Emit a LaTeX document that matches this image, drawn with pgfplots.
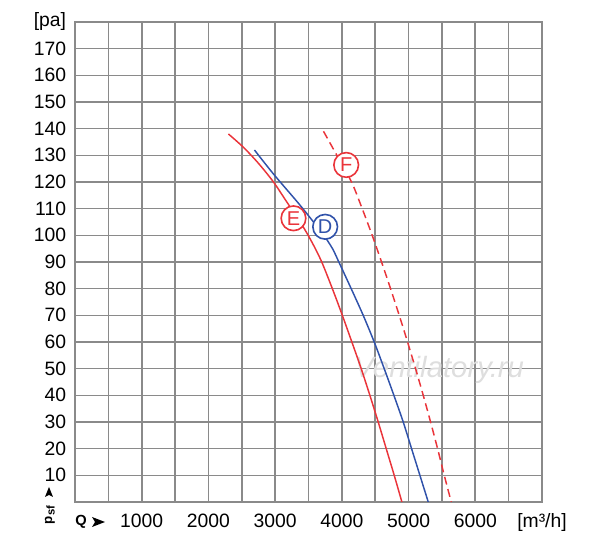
\documentclass[border=0pt]{standalone}
\usepackage{fontspec}
\setmainfont{Liberation Sans}
\usepackage{pgfplots}
\pgfplotsset{compat=1.18}
\definecolor{gridc}{RGB}{138,138,138}
\definecolor{cred}{RGB}{234,52,58}
\definecolor{cblue}{RGB}{48,82,170}
\begin{document}
\begin{tikzpicture}
\path[use as bounding box] (-56.25pt,-30.75pt) rectangle (393.75pt,376.5pt);
\begin{axis}[
  at={(0pt,0pt)}, anchor=south west,
  scale only axis, width=350.25pt, height=360pt,
  xmin=0, xmax=7000, ymin=0, ymax=180,
  xtick={0,500,...,7000},
  xticklabels={,,1000,,2000,,3000,,4000,,5000,,6000,,{[m³/h]}},
  ytick={0,10,...,180},
  yticklabels={,10,20,30,40,50,60,70,80,90,100,110,120,130,140,150,160,170,{[pa]}},
  grid=major,
  major grid style={gridc, line width=1.2pt},
  axis line style={gridc, line width=1.2pt},
  major tick length=0pt,
  scaled ticks=false,
  tick label style={font=\fontsize{14.5}{17}\selectfont, text=black},
  xticklabel style={anchor=base, inner sep=0pt, yshift=-19.5pt},
  yticklabel style={anchor=east, inner sep=0pt, xshift=-6.5pt},
]
\node[text=black!13, font=\fontsize{22}{22}\selectfont\itshape] at (axis cs:5460,49.5) {Ventilatory.ru};
% E (red solid)
\addplot[cred, line width=1.1pt, smooth] coordinates {
(2300,138) (2525,133) (2750,127) (2975,120) (3175,112.5) (3400,104)
(3550,97.5) (3690,90.5) (3850,80.5) (4000,70.5) (4150,60) (4290,50)
(4420,40) (4545,30) (4665,20) (4785,10) (4900,0)};
% D (blue solid)
\addplot[cblue, line width=1.1pt, smooth] coordinates {
(2690,132) (2975,123) (3350,112) (3575,105) (3730,100) (3860,95)
(3955,90) (4140,80) (4320,70) (4485,60) (4635,50) (4780,40)
(4920,30) (5045,20) (5170,10) (5295,0)};
% F (red dashed)
\addplot[cred, line width=1.1pt, smooth, dash pattern=on 6pt off 3.5pt] coordinates {
(3725,139) (3925,130) (4145,120) (4305,110) (4455,100) (4595,90)
(4730,80) (4860,70) (4985,60) (5105,50) (5220,40) (5330,30)
(5435,20) (5535,10) (5640,0)};
\node[circle, draw=cred, fill=white, line width=1.2pt, minimum size=18.5pt, inner sep=0pt, text=cred, font=\fontsize{15}{15}\selectfont] at (axis cs:3275,106.4) {E};
\node[circle, draw=cblue, fill=white, line width=1.2pt, minimum size=18.5pt, inner sep=0pt, text=cblue, font=\fontsize{15}{15}\selectfont] at (axis cs:3750,103.2) {D};
\node[circle, draw=cred, fill=white, line width=1.2pt, minimum size=18.5pt, inner sep=0pt, text=cred, font=\fontsize{15}{15}\selectfont] at (axis cs:4065,126.4) {F};
\end{axis}
% axis symbols
\node[font=\fontsize{11}{11}\selectfont\bfseries] at (4.5pt,-15pt) {Q};
\fill[black] (22.5pt,-15pt) -- (12.75pt,-11.25pt) -- (15pt,-15pt) -- (12.75pt,-18.75pt) -- cycle;
\fill[black] (-19.5pt,11.25pt) -- (-22.5pt,3.75pt) -- (-19.5pt,5.25pt) -- (-16.5pt,3.75pt) -- cycle;
\node[rotate=90, font=\fontsize{10}{10}\selectfont\bfseries, inner sep=0pt] at (-18.75pt,-9.75pt) {p\raisebox{-0.35ex}{\fontsize{8.5}{8.5}\selectfont sf}};
\end{tikzpicture}
\end{document}
